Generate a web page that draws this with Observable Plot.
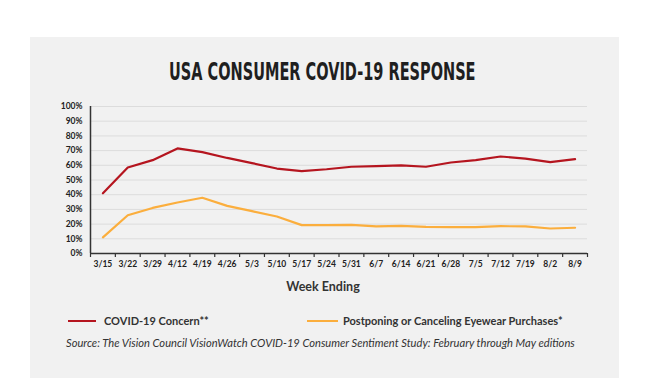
<!DOCTYPE html>
<html>
<head>
<meta charset="utf-8">
<script src="https://cdn.jsdelivr.net/npm/d3@7"></script>
<script src="https://cdn.jsdelivr.net/npm/@observablehq/plot@0.6"></script>
<style>
  html, body { margin: 0; padding: 0; background: #ffffff; }
  #page { position: relative; width: 650px; height: 378px; overflow: hidden; background: #fff; }
  #panel { position: absolute; left: 30px; top: 37px; width: 589px; height: 341px; background: #f1f1f1; }
  .abs { position: absolute; white-space: nowrap; }
  #titlewrap { left: 0; width: 644px; text-align: center; top: 60px; }
  #title { display: inline-block; transform: scaleX(0.605); transform-origin: center; font-family: "DejaVu Sans", sans-serif; font-weight: 700; font-size: 24px; color: #1f1f1f; line-height: 1; }
  #chart { left: 30px; top: 90px; }
  #xlabel { left: 0px; width: 646px; text-align: center; top: 279px; font-family: Lato, sans-serif; font-weight: 700; font-size: 12.5px; color: #333; }
  .leg { top: 314px; font-family: Lato, sans-serif; font-weight: 700; font-size: 11px; color: #333; }
  .swatch { position: absolute; height: 2.5px; }
  #source { left: 66px; top: 336px; font-family: Lato, sans-serif; font-style: italic; font-size: 11.15px; color: #333; }
</style>
</head>
<body>
<div id="page">
  <div id="panel"></div>
  <div id="titlewrap" class="abs"><span id="title"></span></div>
  <div id="chart" class="abs"></div>
  <div id="xlabel" class="abs"></div>
  <div class="swatch" id="sw1" style="left:68px; top:319.5px; width:28px; background:#b5151f;"></div>
  <div id="leg1" class="abs leg" style="left:104px;"></div>
  <div class="swatch" id="sw2" style="left:307px; top:319.5px; width:31px; background:#fbae3d;"></div>
  <div id="leg2" class="abs leg" style="left:343px;"></div>
  <div id="source" class="abs"></div>
</div>
<script>
const titleText = "USA CONSUMER COVID-19 RESPONSE";
const xTitle = "Week Ending";
const seriesNames = ["COVID-19 Concern**", "Postponing or Canceling Eyewear Purchases*"];
const sourceText = "Source: The Vision Council VisionWatch COVID-19 Consumer Sentiment Study: February through May editions";
const weeks = ["3/15","3/22","3/29","4/12","4/19","4/26","5/3","5/10","5/17","5/24","5/31","6/7","6/14","6/21","6/28","7/5","7/12","7/19","8/2","8/9"];
const concern = [41,58.5,63.5,71.5,69,65,61.5,57.8,56,57.3,59,59.4,59.9,59,61.9,63.5,66,64.6,62.1,64.2];
const postpone = [11,26,31,34.7,37.9,32.4,28.8,25.2,19.3,19.3,19.5,18.4,18.8,18.1,17.9,17.9,18.6,18.4,17,17.5];
const yTicks = [0,10,20,30,40,50,60,70,80,90,100];
const colors = ["#b5151f", "#fbae3d"];

document.getElementById("title").textContent = titleText;
document.getElementById("xlabel").textContent = xTitle;
document.getElementById("leg1").textContent = seriesNames[0];
document.getElementById("leg2").textContent = seriesNames[1];
document.getElementById("source").textContent = sourceText;

const rows = [];
weeks.forEach((w, i) => {
  rows.push({i, week: w, value: concern[i], series: seriesNames[0]});
});
weeks.forEach((w, i) => {
  rows.push({i, week: w, value: postpone[i], series: seriesNames[1]});
});
const idx = d3.range(weeks.length);
const bounds = d3.range(weeks.length + 1).map(k => k - 0.5);

const chart = Plot.plot({
  width: 589,
  height: 190,
  marginLeft: 60,
  marginRight: 32,
  marginTop: 16,
  marginBottom: 27,
  style: {background: "transparent", overflow: "visible"},
  x: {type: "linear", domain: [-0.5, weeks.length - 0.5]},
  y: {domain: [0, 100]},
  color: {domain: seriesNames, range: colors},
  marks: [
    Plot.gridY(yTicks.filter(t => t > 0), {stroke: "#dcdcdc", strokeOpacity: 1, strokeWidth: 1}),
    Plot.axisY(yTicks, {tickSize: 0, tickPadding: 8, tickFormat: d => d + "%", fontFamily: "Lato, sans-serif", fontWeight: 700, fontSize: 8.5, fill: "#222", label: null}),
    Plot.axisX(bounds, {tickSize: 4, tickFormat: () => "", stroke: "#333", strokeWidth: 1.2, label: null}),
    Plot.axisX(idx, {tickSize: 0, tickPadding: 7, tickFormat: i => weeks[i], fontFamily: "Lato, sans-serif", fontWeight: 700, fontSize: 8.5, fill: "#222", label: null}),
    Plot.line(rows, {x: "i", y: "value", stroke: "series", z: "series", strokeWidth: 2.2, curve: "linear"}),
    Plot.ruleY([0], {stroke: "#333", strokeWidth: 1.5}),
    Plot.ruleX([-0.5], {stroke: "#333", strokeWidth: 1.5})
  ]
});
document.getElementById("chart").appendChild(chart);
</script>
</body>
</html>
